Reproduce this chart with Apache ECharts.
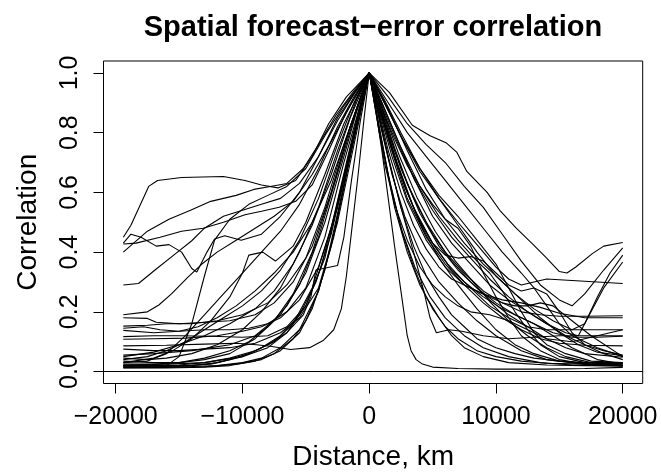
<!DOCTYPE html>
<html>
<head>
<meta charset="utf-8">
<script src="https://cdn.jsdelivr.net/npm/echarts@6/dist/echarts.min.js"></script>
<style>html,body{margin:0;padding:0;background:#fff}#c{width:661px;height:476px}</style>
</head>
<body>
<div id="c"></div>
<script>
const xTicks = [-20000, -10000, 0, 10000, 20000];
const yTicks = [0, 0.2, 0.4, 0.6, 0.8, 1.0];

const s01 = [[-19400,.086],[-16000,.088],[-13000,.092],[-10500,.095],[-8900,.09],[-7800,.085],[-6200,.074],[-4700,.08],[-3600,.105],[-2800,.14],[-2200,.21],[-1800,.32],[-1500,.43],[-900,.65],[-400,.85],[0,1],[500,.88],[1000,.74],[1500,.58],[2000,.42],[2500,.27],[3000,.12],[3300,.07],[3700,.04],[4200,.025],[5000,.015],[7000,.01],[10000,.008],[14000,.008],[17000,.01],[20000,.014]];
const s02 = [[-19400,.015],[-17000,.015],[-14000,.017],[-12000,.02],[-10000,.03],[-8500,.045],[-7000,.08],[-5500,.14],[-4000,.27],[-2800,.45],[-1600,.70],[-700,.88],[0,1],[600,.86],[1300,.70],[2000,.55],[3000,.40],[4000,.29],[5000,.21],[6000,.15],[7000,.11],[8500,.07],[10000,.05],[12000,.035],[14000,.028],[17000,.025],[20000,.028]];
const s03 = [[-19400,.012],[-16000,.012],[-13000,.015],[-11000,.02],[-9000,.035],[-7500,.06],[-6000,.11],[-5000,.17],[-4000,.27],[-3000,.42],[-2000,.62],[-1000,.83],[0,1],[700,.84],[1500,.66],[2500,.48],[3500,.35],[4500,.25],[5500,.18],[6500,.12],[7500,.08],[9000,.05],[11000,.03],[14000,.022],[17000,.02],[20000,.02]];
const s04 = [[-19400,.02],[-17000,.02],[-15000,.022],[-13000,.03],[-11000,.045],[-9000,.07],[-7500,.10],[-6000,.16],[-4500,.28],[-3000,.48],[-1800,.70],[-800,.88],[0,1],[800,.85],[1600,.70],[2500,.55],[3500,.42],[4500,.32],[5500,.25],[6500,.19],[7500,.15],[8500,.11],[10000,.08],[11500,.06],[13000,.045],[15000,.035],[17000,.03],[20000,.03]];
const s05 = [[-19400,.018],[-17000,.02],[-14500,.02],[-12500,.025],[-11000,.04],[-9500,.06],[-8000,.09],[-6500,.13],[-5200,.19],[-4600,.25],[-4200,.34],[-2500,.355],[-2000,.45],[-1400,.64],[-700,.84],[0,1],[700,.87],[1500,.72],[2500,.55],[3500,.40],[4300,.27],[4800,.18],[5300,.13],[6300,.14],[7300,.135],[9000,.12],[11000,.11],[13000,.115],[15000,.12],[17000,.12],[20000,.12]];
const s06 = [[-19400,.145],[-17800,.15],[-16500,.14],[-15000,.135],[-13000,.14],[-11000,.14],[-9500,.145],[-8000,.16],[-6500,.20],[-5000,.28],[-3500,.45],[-2000,.70],[0,1],[600,.85],[1200,.70],[2000,.56],[3000,.44],[4000,.35],[5000,.29],[6000,.25],[7000,.22],[8000,.20],[9500,.19],[11000,.17],[12500,.14],[14000,.11],[16000,.10],[18000,.12],[20000,.14]];
const s07 = [[-19400,.075],[-17000,.07],[-15000,.07],[-13000,.075],[-11000,.08],[-9000,.095],[-7000,.13],[-5500,.18],[-4000,.28],[-2500,.50],[-1000,.80],[0,1],[700,.88],[1500,.74],[2500,.60],[3500,.49],[4500,.41],[5500,.35],[6500,.31],[7500,.29],[8500,.27],[9500,.25],[10500,.23],[11500,.22],[12500,.22],[13500,.23],[14500,.22],[16000,.17],[17500,.12],[20000,.05]];
const s08 = [[-19400,.108],[-17000,.11],[-14500,.112],[-12000,.12],[-10000,.135],[-8500,.15],[-7000,.18],[-5500,.24],[-4000,.35],[-2500,.55],[-1000,.82],[0,1],[1000,.87],[2000,.74],[3500,.58],[5000,.46],[6500,.37],[8000,.30],[9500,.24],[11000,.19],[12500,.15],[14000,.11],[15500,.08],[17000,.06],[20000,.048]];
const s09 = [[-19400,.117],[-17000,.12],[-15000,.12],[-12500,.118],[-10000,.115],[-8000,.12],[-6500,.15],[-5000,.22],[-3500,.38],[-2000,.65],[0,1],[1000,.85],[2000,.71],[3000,.58],[4500,.45],[6000,.36],[7500,.29],[9000,.23],[10500,.18],[12000,.14],[13500,.11],[15000,.095],[17000,.088],[20000,.086]];
const s10 = [[-19400,.025],[-17000,.025],[-15000,.03],[-13000,.045],[-11000,.07],[-9500,.10],[-8000,.15],[-6500,.22],[-5000,.33],[-3500,.50],[-2000,.72],[-1000,.87],[0,1],[900,.87],[1800,.74],[2800,.62],[3800,.52],[5000,.43],[6200,.36],[7500,.30],[9000,.25],[10500,.21],[12000,.18],[13000,.16],[14500,.12],[16000,.08],[18000,.04],[20000,.025]];
const s11 = [[-19400,.152],[-17500,.155],[-16000,.16],[-14000,.16],[-12000,.17],[-10000,.19],[-8000,.23],[-6500,.29],[-5000,.38],[-3500,.55],[-2000,.76],[0,1],[1200,.84],[2500,.68],[4000,.53],[5500,.42],[7000,.34],[8500,.28],[10000,.23],[11500,.19],[13000,.16],[14500,.13],[16000,.115],[18000,.115],[20000,.118]];
const s12 = [[-19400,.035],[-17000,.03],[-15000,.03],[-13000,.04],[-11000,.06],[-9000,.11],[-7500,.17],[-6000,.26],[-4500,.40],[-3000,.60],[-1500,.82],[0,1],[1000,.86],[2000,.72],[3000,.60],[4200,.48],[5500,.38],[7000,.29],[8500,.21],[10000,.14],[11500,.09],[13000,.06],[15000,.035],[17500,.025],[20000,.02]];
const s13 = [[-19400,.04],[-17500,.05],[-16000,.07],[-14500,.10],[-13000,.14],[-11500,.18],[-10000,.22],[-8500,.27],[-7000,.34],[-5500,.44],[-4000,.58],[-2500,.76],[-1200,.90],[0,1],[1000,.86],[2200,.70],[3500,.55],[5000,.43],[6500,.34],[8000,.28],[9500,.22],[11000,.18],[12500,.15],[14000,.14],[16000,.14],[18000,.14],[20000,.14]];
const s14 = [[-19400,.05],[-17000,.065],[-15000,.09],[-13000,.12],[-11000,.16],[-9000,.21],[-7500,.27],[-6000,.36],[-4500,.49],[-3000,.66],[-1500,.85],[0,1],[800,.87],[1800,.72],[3000,.57],[4500,.44],[6000,.35],[7500,.29],[9000,.26],[10500,.24],[12000,.23],[13500,.215],[15000,.195],[17000,.18],[20000,.18]];
const s15 = [[-19400,.18],[-17500,.178],[-16800,.165],[-15000,.16],[-13000,.165],[-11000,.17],[-9000,.19],[-7500,.23],[-6000,.30],[-4500,.42],[-3000,.60],[-1500,.82],[0,1],[1000,.88],[2000,.75],[3000,.63],[4500,.50],[6000,.40],[7500,.33],[9000,.27],[10500,.23],[12000,.20],[13500,.19],[15000,.185],[17000,.185],[20000,.187]];
const s16 = [[-19400,.138],[-17000,.13],[-15000,.135],[-13500,.15],[-12000,.18],[-10500,.22],[-9000,.27],[-7500,.33],[-6000,.40],[-4500,.50],[-3000,.64],[-1500,.82],[0,1],[1000,.86],[2000,.72],[3000,.60],[4000,.50],[5000,.43],[6000,.39],[7000,.38],[8000,.385],[9000,.37],[10000,.33],[11000,.29],[12000,.27],[13000,.28],[14000,.26],[15000,.20],[16000,.13],[17000,.09],[18500,.06],[20000,.04]];
const s17 = [[-19400,.045],[-17500,.04],[-16000,.045],[-14000,.06],[-12000,.09],[-10000,.14],[-8500,.20],[-7000,.28],[-5500,.40],[-4000,.55],[-2500,.74],[-1000,.91],[0,1],[1000,.90],[2200,.78],[3500,.65],[5000,.52],[6500,.43],[8000,.36],[9500,.29],[11000,.24],[12500,.20],[14000,.16],[15500,.13],[16500,.12],[17500,.20],[18500,.28],[20000,.367]];
const s18 = [[-19400,.19],[-17500,.20],[-16600,.223],[-15600,.26],[-14300,.316],[-13200,.36],[-12000,.40],[-10500,.44],[-9000,.48],[-7500,.52],[-6000,.57],[-4500,.66],[-3000,.77],[-1500,.89],[0,1],[1500,.88],[3000,.74],[4500,.61],[6000,.51],[7500,.43],[9000,.36],[10500,.30],[12000,.24],[13500,.18],[15000,.13],[16500,.09],[18000,.065],[20000,.053]];
const s19 = [[-19400,.03],[-17500,.035],[-16000,.06],[-14500,.12],[-13000,.19],[-11500,.26],[-10000,.33],[-8500,.40],[-7000,.47],[-5500,.56],[-4000,.68],[-2500,.82],[-1200,.92],[0,1],[1300,.89],[2600,.78],[4000,.68],[5500,.59],[7000,.52],[8500,.44],[10000,.36],[11000,.28],[12000,.20],[13000,.13],[14000,.09],[15500,.06],[17500,.035],[20000,.03]];
const s20 = [[-19400,.03],[-17000,.045],[-15500,.07],[-14000,.11],[-12500,.17],[-11000,.25],[-10000,.33],[-9500,.39],[-8400,.40],[-7400,.37],[-6000,.42],[-5000,.50],[-3500,.66],[-2000,.83],[0,1],[1200,.91],[2500,.80],[4000,.68],[5500,.58],[7000,.49],[8500,.40],[10000,.32],[11500,.26],[13000,.21],[14500,.17],[16000,.14],[17000,.16],[18000,.25],[19000,.33],[20000,.39]];
const s21 = [[-19400,.02],[-17500,.018],[-16000,.02],[-15000,.05],[-14000,.16],[-13000,.32],[-12200,.44],[-11000,.51],[-9500,.56],[-8000,.59],[-6500,.62],[-5000,.68],[-3500,.79],[-2000,.89],[0,1],[1200,.88],[2500,.75],[4000,.62],[5500,.52],[7000,.44],[8500,.37],[9500,.33],[10500,.27],[11500,.20],[12500,.14],[13500,.09],[15000,.05],[17000,.03],[20000,.025]];
const s22 = [[-19400,.29],[-18200,.295],[-16900,.34],[-15300,.394],[-14000,.438],[-13000,.48],[-11500,.52],[-10000,.54],[-8500,.56],[-7000,.58],[-5500,.63],[-4000,.72],[-2500,.84],[-1200,.93],[0,1],[1200,.90],[2500,.79],[4000,.67],[5500,.58],[7000,.50],[8000,.45],[9000,.40],[10000,.35],[11000,.31],[12000,.29],[13000,.30],[14000,.31],[16000,.305],[18000,.30],[20000,.295]];
const s23 = [[-19400,.427],[-18400,.43],[-16500,.45],[-14800,.47],[-13100,.48],[-11500,.50],[-9800,.525],[-8500,.537],[-7100,.55],[-5800,.57],[-4500,.625],[-3200,.74],[-1800,.87],[0,1],[1000,.88],[2000,.78],[3000,.69],[4000,.62],[5000,.56],[6000,.51],[7000,.48],[8000,.42],[9000,.33],[10000,.25],[11000,.18],[12000,.12],[13500,.07],[15000,.04],[17000,.025],[20000,.02]];
const s24 = [[-19400,.40],[-17500,.47],[-15800,.51],[-14100,.54],[-12500,.57],[-10500,.59],[-9100,.61],[-7800,.62],[-6500,.63],[-5200,.68],[-4000,.76],[-2600,.86],[-1200,.94],[0,1],[1500,.90],[3000,.80],[4500,.72],[6000,.64],[7500,.56],[9000,.48],[10500,.40],[12000,.33],[13000,.28],[14000,.22],[15000,.16],[16000,.12],[17000,.10],[18000,.08],[20000,.05]];
const s25 = [[-19400,.43],[-18800,.46],[-18000,.45],[-16800,.42],[-15800,.425],[-14800,.40],[-14000,.345],[-13600,.333],[-12800,.40],[-12200,.444],[-11400,.455],[-10100,.44],[-8500,.46],[-7000,.52],[-5500,.60],[-4000,.72],[-2500,.85],[-1200,.93],[0,1],[1500,.92],[3000,.83],[4500,.76],[6000,.70],[7500,.62],[9000,.55],[10500,.46],[12000,.37],[13500,.29],[15000,.24],[16000,.22],[17000,.26],[18500,.34],[20000,.414]];
const s26 = [[-19400,.45],[-18800,.49],[-17400,.62],[-16700,.64],[-14800,.65],[-11500,.653],[-9800,.64],[-8500,.625],[-7200,.615],[-5800,.64],[-4500,.72],[-3200,.83],[-1800,.92],[0,1],[1600,.934],[3400,.825],[4800,.79],[6100,.765],[6900,.735],[7700,.67],[8500,.635],[9300,.60],[10300,.54],[11600,.48],[12900,.427],[14000,.38],[15000,.335],[15600,.33],[16300,.35],[17600,.395],[18500,.42],[20000,.432]];
const s27 = [[-19400,.022],[-16000,.025],[-13000,.03],[-10000,.05],[-8000,.08],[-6500,.13],[-5000,.22],[-3800,.35],[-2600,.55],[-1300,.78],[0,1],[900,.82],[1800,.66],[2800,.52],[4000,.40],[5500,.30],[7000,.23],[8500,.17],[10000,.12],[12000,.07],[14000,.04],[17000,.025],[20000,.02]];
const s28 = [[-19400,.055],[-17000,.06],[-14000,.07],[-11000,.09],[-9000,.12],[-7000,.19],[-5500,.29],[-4000,.45],[-2800,.62],[-1400,.82],[0,1],[1100,.88],[2300,.76],[3600,.64],[5000,.54],[6500,.45],[8000,.38],[9500,.31],[11000,.25],[12500,.20],[14000,.16],[15500,.12],[17000,.09],[18500,.07],[20000,.055]];
const s29 = [[-19400,.013],[-16000,.014],[-13000,.016],[-10500,.025],[-8500,.04],[-7000,.07],[-5500,.13],[-4500,.21],[-3500,.34],[-2500,.53],[-1200,.78],[0,1],[800,.80],[1700,.62],[2600,.47],[3600,.35],[4800,.25],[6000,.18],[7500,.12],[9000,.08],[11000,.05],[13500,.03],[16000,.022],[20000,.018]];
const s30 = [[-19400,.016],[-17000,.016],[-14000,.02],[-12000,.03],[-10000,.05],[-8500,.08],[-7000,.12],[-5500,.19],[-4200,.30],[-3000,.46],[-1700,.70],[-700,.89],[0,1],[1200,.86],[2400,.72],[3800,.58],[5200,.47],[6800,.37],[8200,.30],[9600,.23],[11000,.17],[12500,.12],[14000,.08],[15500,.05],[17500,.03],[20000,.022]];

const curves = [s01,s02,s03,s04,s05,s06,s07,s08,s09,s10,s11,s12,s13,s14,s15,s16,s17,s18,s19,s20,s21,s22,s23,s24,s25,s26,s27,s28,s29,s30];

const FONT = 'Liberation Sans';
const chart = echarts.init(document.getElementById('c'), null, {renderer: 'canvas'});

const series = curves.map(function (d, i) {
  const s = {
    type: 'line', data: d, symbol: 'none', showSymbol: false, silent: true,
    lineStyle: {color: '#000', width: 1.1}, emphasis: {disabled: true}, z: 2
  };
  if (i === 0) {
    s.markLine = {
      silent: true, symbol: 'none', label: {show: false},
      lineStyle: {color: '#000', width: 1, type: 'solid'},
      data: [{yAxis: 0}]
    };
  }
  return s;
});

chart.setOption({
  animation: false,
  backgroundColor: '#fff',
  title: {
    text: 'Spatial forecast\u2212error correlation',
    left: 373, top: 13, textAlign: 'center', padding: 0,
    textStyle: {fontFamily: FONT, fontSize: 29, fontWeight: 'bold', color: '#000', lineHeight: 29}
  },
  grid: {left: 103.5, top: 61, right: 18.3, bottom: 88.3, show: true, borderColor: '#000', borderWidth: 1, containLabel: false},
  xAxis: {
    type: 'value', min: -20963.5, max: 21575.5,
    axisLine: {show: false, onZero: false},
    axisTick: {show: true, length: 10, customValues: xTicks, lineStyle: {color: '#000', width: 1}},
    axisLabel: {
      customValues: xTicks, fontFamily: FONT, fontSize: 25, lineHeight: 25, color: '#000', margin: 21.5,
      formatter: function (v) { return v < 0 ? '\u2212' + Math.abs(v) : String(v); }
    },
    splitLine: {show: false},
    name: 'Distance, km', nameLocation: 'middle', nameGap: 59.5,
    nameTextStyle: {fontFamily: FONT, fontSize: 28, lineHeight: 28, color: '#000'}
  },
  yAxis: {
    type: 'value', min: -0.04, max: 1.04,
    axisLine: {show: false, onZero: false},
    axisTick: {show: true, length: 10, customValues: yTicks, lineStyle: {color: '#000', width: 1}},
    axisLabel: {
      customValues: yTicks, rotate: 90, fontFamily: FONT, fontSize: 25, lineHeight: 25, color: '#000', margin: 20.4,
      formatter: function (v) { return v.toFixed(1); }
    },
    splitLine: {show: false},
    name: 'Correlation', nameLocation: 'middle', nameGap: 61.5, nameRotate: 90,
    nameTextStyle: {fontFamily: FONT, fontSize: 28, lineHeight: 28, color: '#000'}
  },
  series: series
});
</script>
</body>
</html>
